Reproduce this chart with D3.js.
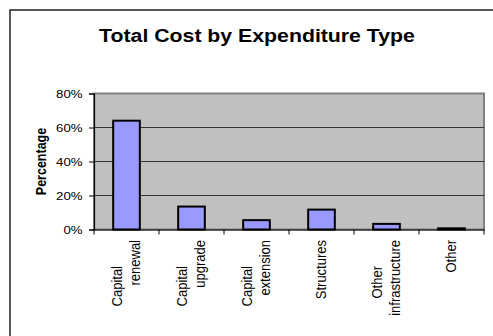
<!DOCTYPE html>
<html>
<head>
<meta charset="utf-8">
<script src="https://cdn.jsdelivr.net/npm/d3@7"></script>
<style>
  html, body { margin: 0; padding: 0; background: #fff; }
  svg { display: block; font-family: Arial, "Liberation Sans", sans-serif; }
</style>
</head>
<body>
<svg id="chart" width="493" height="336"></svg>
<script>
// ---- data ----
const chartTitle = "Total Cost by Expenditure Type";
const yAxisTitle = "Percentage";
const categories = ["Capital renewal", "Capital upgrade", "Capital extension", "Structures", "Other infrastructure", "Other"];
const categoryLines = [["Capital", "renewal"], ["Capital", "upgrade"], ["Capital", "extension"], ["Structures"], ["Other", "infrastructure"], ["Other"]];
const percentages = [64, 13.5, 5.5, 11.7, 3.3, 0.7];
const yTicks = [0, 20, 40, 60, 80];
const yTickLabels = ["0%", "20%", "40%", "60%", "80%"];

// ---- layout ----
const svg = d3.select("#chart");
const W = 493, H = 336;
const plot = { left: 94, right: 484, top: 93.5, bottom: 229.5 };
const sx = 1.2; // horizontal stretch of the original picture

// outer frame
svg.append("rect")
  .attr("x", 10).attr("y", 10)
  .attr("width", W + 20).attr("height", H + 20)
  .attr("fill", "#fff").attr("stroke", "#222").attr("stroke-width", 1.5);

const x = d3.scaleBand().domain(categories).range([plot.left, plot.right])
  .paddingInner(0.59).paddingOuter(0.295);
const xStep = d3.scaleBand().domain(categories).range([plot.left, plot.right]).padding(0);
const y = d3.scaleLinear().domain([0, 80]).range([plot.bottom, plot.top]);

// plot background
svg.append("rect")
  .attr("x", plot.left).attr("y", plot.top)
  .attr("width", plot.right - plot.left).attr("height", plot.bottom - plot.top)
  .attr("fill", "#c0c0c0").attr("stroke", "#808080").attr("stroke-width", 2);

// gridlines
svg.append("g").selectAll("line")
  .data(yTicks.filter(t => t > 0 && t < 80))
  .join("line")
  .attr("x1", plot.left).attr("x2", plot.right)
  .attr("y1", d => y(d)).attr("y2", d => y(d))
  .attr("stroke", "#333").attr("stroke-width", 1.2);

// bars
svg.append("g").selectAll("rect")
  .data(percentages)
  .join("rect")
  .attr("x", (d, i) => x(categories[i]))
  .attr("width", x.bandwidth())
  .attr("y", d => y(d))
  .attr("height", d => y(0) - y(d))
  .attr("fill", "#9999ff").attr("stroke", "#000").attr("stroke-width", 2);

// y axis
const yAxis = d3.axisLeft(y).tickValues(yTicks).tickSize(5).tickFormat((d, i) => yTickLabels[i]);
const gy = svg.append("g").attr("transform", `translate(${plot.left},0)`).call(yAxis);
gy.select(".domain").attr("stroke", "#000").attr("stroke-width", 1.2);
gy.selectAll(".tick line").attr("stroke", "#000");
gy.selectAll(".tick text").remove();
svg.append("g").selectAll("text")
  .data(yTicks)
  .join("text")
  .attr("transform", d => `translate(${plot.left - 11.5},${y(d) + 4}) scale(${sx},1)`)
  .attr("text-anchor", "end")
  .attr("font-size", 11)
  .attr("fill", "#000")
  .text((d, i) => yTickLabels[i]);

// x axis
const xAxis = d3.axisBottom(xStep).tickSize(0).tickFormat("");
const gx = svg.append("g").attr("transform", `translate(0,${plot.bottom})`).call(xAxis);
gx.select(".domain").attr("stroke", "#000").attr("stroke-width", 1.2);
const boundaries = categories.map(c => xStep(c)).concat([plot.right]);
svg.append("g").selectAll("line")
  .data(boundaries)
  .join("line")
  .attr("x1", d => d).attr("x2", d => d)
  .attr("y1", plot.bottom).attr("y2", plot.bottom + 5)
  .attr("stroke", "#000");

// category labels (rotated)
const lineGap = 18;
const labelTop = 240;
categoryLines.forEach((lines, i) => {
  const cx = xStep(categories[i]) + xStep.bandwidth() / 2;
  lines.forEach((ln, j) => {
    const bx = cx + (j - (lines.length - 1) / 2) * lineGap + 4;
    const endY = (lines.length > 1 && j === 0) ? labelTop + 26 : labelTop;
    svg.append("text")
      .attr("transform", `translate(${bx},${endY}) scale(1.1,1) rotate(-90)`)
      .attr("text-anchor", "end")
      .attr("font-size", 13)
      .attr("fill", "#000")
      .text(ln);
  });
});

// y axis title
svg.append("text")
  .attr("transform", `translate(46,${(plot.top + plot.bottom) / 2}) scale(${sx},1) rotate(-90)`)
  .attr("text-anchor", "middle")
  .attr("font-size", 12.5)
  .attr("font-weight", "bold")
  .attr("fill", "#000")
  .text(yAxisTitle);

// chart title
svg.append("text")
  .attr("transform", `translate(257,42) scale(1.15,1)`)
  .attr("text-anchor", "middle")
  .attr("font-size", 18.5)
  .attr("font-weight", "bold")
  .attr("fill", "#000")
  .text(chartTitle);
</script>
</body>
</html>
